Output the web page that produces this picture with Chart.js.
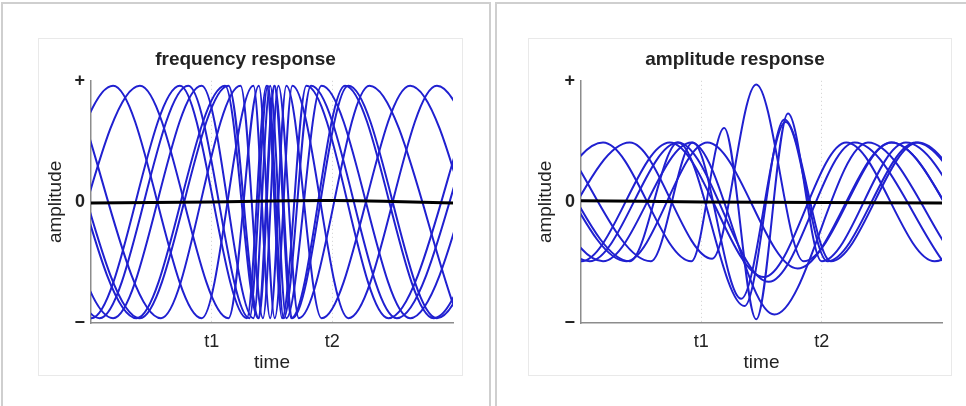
<!DOCTYPE html>
<html>
<head>
<meta charset="utf-8">
<script src="https://cdn.jsdelivr.net/npm/chart.js@4.4.0/dist/chart.umd.min.js"></script>
<style>
  body { margin: 0; background: #fff; width: 966px; height: 406px; overflow: hidden; position: relative; }
  .panel { position: absolute; top: 2px; height: 430px; border: 2px solid #cfcfcf; box-sizing: border-box; }
  .frame { position: absolute; top: 38px; height: 338px; border: 1px solid #e9e9e9; box-sizing: border-box; }
  canvas { position: absolute; }
</style>
</head>
<body>
<div class="panel" style="left:1px;width:490px"></div>
<div class="panel" style="left:495px;width:490px"></div>
<div class="frame" style="left:38px;width:425px"></div>
<div class="frame" style="left:528px;width:424px"></div>
<canvas id="freq" width="424" height="337" style="left:38px;top:38px"></canvas>
<canvas id="amp" width="423" height="337" style="left:528px;top:38px"></canvas>
<script>
const timeTicks = [1, 2];
const timeLabels = ['t1', 't2'];
const ampTicks = [-1, 0, 1];
const ampLabels = ['\u2212', '0', '+'];

// frequency response: turning points (peaks / troughs) of each trace
const freqX1 = [-0.551, 0.183, 0.917, 1.346, 1.485, 1.619, 1.911, 2.645, 3.379];
const freqY1 = [-0.96, 0.96, -0.96, 0.96, -0.96, 0.96, -0.96, 0.96, -0.96];
const freqX2 = [-0.551, 0.183, 0.917, 1.346, 1.485, 1.619, 1.911, 2.645, 3.379];
const freqY2 = [0.96, -0.96, 0.96, -0.96, 0.96, -0.96, 0.96, -0.96, 0.96];
const freqX3 = [-0.329, 0.405, 1.139, 1.391, 1.523, 1.669, 2.133, 2.867, 3.601];
const freqY3 = [-0.96, 0.96, -0.96, 0.96, -0.96, 0.96, -0.96, 0.96, -0.96];
const freqX4 = [-0.357, 0.377, 1.111, 1.385, 1.518, 1.660, 2.105, 2.839, 3.573];
const freqY4 = [0.96, -0.96, 0.96, -0.96, 0.96, -0.96, 0.96, -0.96, 0.96];
const freqX5 = [-0.329, 0.405, 1.139, 1.391, 1.523, 1.669, 2.133, 2.867, 3.601];
const freqY5 = [0.96, -0.96, 0.96, -0.96, 0.96, -0.96, 0.96, -0.96, 0.96];
const freqX6 = [-0.154, 0.580, 1.239, 1.425, 1.553, 1.722, 2.308, 3.042];
const freqY6 = [0.96, -0.96, 0.96, -0.96, 0.96, -0.96, 0.96, -0.96];
const freqX7 = [-0.731, 0.003, 0.737, 1.292, 1.455, 1.584, 1.785, 2.465, 3.199];
const freqY7 = [0.96, -0.96, 0.96, -0.96, 0.96, -0.96, 0.96, -0.96, 0.96];
const freqX8 = [-0.662, 0.072, 0.806, 1.313, 1.466, 1.597, 1.823, 2.534, 3.268];
const freqY8 = [0.96, -0.96, 0.96, -0.96, 0.96, -0.96, 0.96, -0.96, 0.96];
const freqMeanX = [0, 0.5, 1.0, 1.5, 2.0, 2.5, 3.0];
const freqMeanY = [-0.01, -0.005, 0, 0.008, 0.012, 0.004, -0.01];

// amplitude response: turning points of each trace
const ampX1 = [-0.551, 0.183, 0.917, 1.190, 1.456, 1.720, 2.000, 2.700, 3.430];
const ampY1 = [-0.49, 0.49, -0.49, 0.61, -0.97, 0.73, -0.49, 0.49, -0.49];
const ampX2 = [-0.551, 0.183, 0.917, 1.607, 2.385, 3.119];
const ampY2 = [0.49, -0.49, 0.49, -0.93, 0.49, -0.49];
const ampX3 = [-0.329, 0.405, 1.090, 1.456, 1.850, 2.580, 3.310];
const ampY3 = [-0.49, 0.49, -0.47, 0.97, -0.49, 0.49, -0.49];
const ampX4 = [-0.357, 0.377, 1.050, 1.800, 2.579, 3.313];
const ampY4 = [0.49, -0.49, 0.49, -0.55, 0.49, -0.49];
const ampX5 = [-0.329, 0.405, 0.806, 1.359, 1.690, 2.077, 2.800, 3.520];
const ampY5 = [0.49, -0.49, 0.49, -0.86, 0.68, -0.49, 0.49, -0.49];
const ampX6 = [-0.154, 0.580, 0.930, 1.331, 1.700, 2.048, 2.782, 3.516];
const ampY6 = [0.49, -0.49, 0.49, -0.80, 0.66, -0.49, 0.49, -0.49];
const ampX7 = [-0.731, 0.003, 0.737, 1.520, 2.205, 2.939, 3.673];
const ampY7 = [0.49, -0.49, 0.49, -0.62, 0.49, -0.49, 0.49];
const ampX8 = [-0.662, 0.072, 0.806, 1.560, 2.274, 3.008];
const ampY8 = [0.49, -0.49, 0.49, -0.66, 0.49, -0.49];
const ampMeanX = [0, 1.0, 2.0, 3.0];
const ampMeanY = [0.01, 0, -0.005, -0.01];

const BLUE = 'rgb(32,32,208)';
const FONT = '"Liberation Sans", Arial, sans-serif';

function points(xs, ys) {
  return xs.map((x, i) => ({ x: x, y: ys[i] }));
}

function trace(xs, ys) {
  return {
    data: points(xs, ys),
    borderColor: BLUE,
    borderWidth: 2,
    pointRadius: 0,
    cubicInterpolationMode: 'monotone',
    order: 1
  };
}

function meanLine(xs, ys) {
  return {
    data: points(xs, ys),
    borderColor: '#000',
    borderWidth: 3,
    pointRadius: 0,
    tension: 0.4,
    order: 0
  };
}

function makeChart(id, title, traces, mean) {
  const datasets = traces.map(t => trace(t[0], t[1]));
  datasets.push(meanLine(mean[0], mean[1]));
  return new Chart(document.getElementById(id), {
    type: 'line',
    data: { datasets: datasets },
    options: {
      responsive: false,
      animation: false,
      layout: { padding: { left: 0, right: 9, top: 0, bottom: 0 } },
      plugins: {
        legend: { display: false },
        tooltip: { enabled: false },
        title: {
          display: true,
          text: title,
          color: '#222',
          font: { family: FONT, size: 19, weight: 'bold' },
          padding: { top: 10, bottom: 10 }
        }
      },
      scales: {
        x: {
          type: 'linear',
          min: 0,
          max: 3,
          afterBuildTicks: s => { s.ticks = timeTicks.map(v => ({ value: v })); },
          afterFit: s => { s.height = 52; },
          ticks: {
            color: '#222',
            padding: 8,
            font: { family: FONT, size: 18 },
            callback: v => timeLabels[timeTicks.indexOf(v)]
          },
          grid: { display: true, drawTicks: false, color: '#cfcfcf', lineWidth: 1 },
          border: { display: true, color: '#8c8c8c', width: 1.5, dash: [1, 3] },
          title: {
            display: true,
            text: 'time',
            color: '#222',
            font: { family: FONT, size: 19 },
            padding: { top: 0, bottom: 1 }
          }
        },
        y: {
          min: -1,
          max: 1,
          afterBuildTicks: s => { s.ticks = ampTicks.map(v => ({ value: v })); },
          afterFit: s => { s.width = 53; },
          ticks: {
            color: '#222',
            padding: 6,
            font: { family: FONT, size: 18, weight: 'bold' },
            callback: v => ampLabels[ampTicks.indexOf(v)]
          },
          grid: { display: false, drawTicks: false },
          border: { display: true, color: '#8c8c8c', width: 1.5 },
          title: {
            display: true,
            text: 'amplitude',
            color: '#222',
            font: { family: FONT, size: 19 },
            padding: { top: 6, bottom: 0 }
          }
        }
      }
    }
  });
}

makeChart('freq', 'frequency response', [
  [freqX1, freqY1], [freqX2, freqY2], [freqX3, freqY3], [freqX4, freqY4],
  [freqX5, freqY5], [freqX6, freqY6], [freqX7, freqY7], [freqX8, freqY8]
], [freqMeanX, freqMeanY]);

makeChart('amp', 'amplitude response', [
  [ampX1, ampY1], [ampX2, ampY2], [ampX3, ampY3], [ampX4, ampY4],
  [ampX5, ampY5], [ampX6, ampY6], [ampX7, ampY7], [ampX8, ampY8]
], [ampMeanX, ampMeanY]);
</script>
</body>
</html>
